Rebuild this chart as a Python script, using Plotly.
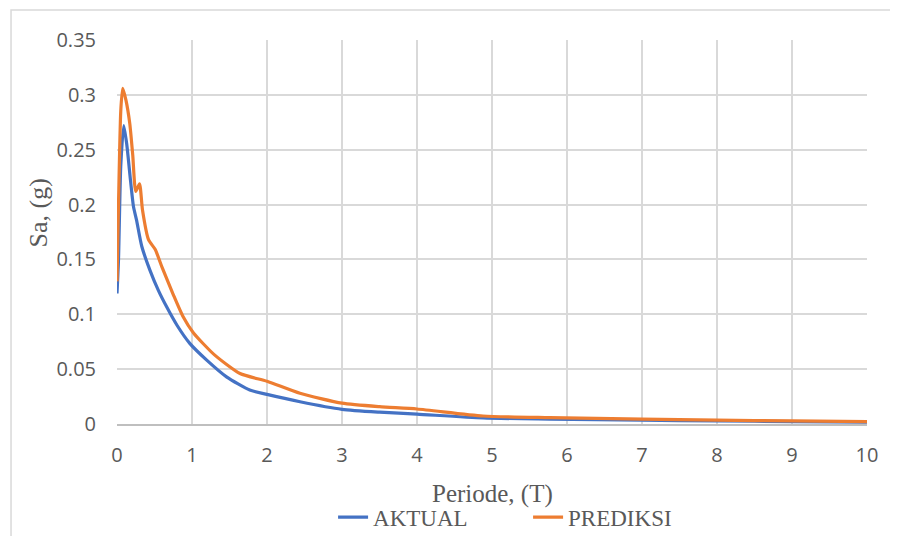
import plotly.graph_objects as go

# period values (s) and spectral accelerations (g)
t_aktual = [0.0, 0.02, 0.05, 0.09, 0.13, 0.18, 0.22, 0.26, 0.33, 0.44, 0.55, 0.66, 0.8, 0.97,
            1.2, 1.46, 1.77, 2.0, 2.44, 3.0, 3.5, 4.0, 4.88, 5.77, 7.0, 8.0, 9.0, 10.0]
sa_aktual = [0.119, 0.15, 0.235, 0.272, 0.255, 0.222, 0.198, 0.186, 0.162, 0.140, 0.122, 0.107,
             0.090, 0.0735, 0.058, 0.043, 0.031, 0.027, 0.0203, 0.0134, 0.0108, 0.009, 0.0055,
             0.0045, 0.0035, 0.0028, 0.0022, 0.0016]

t_prediksi = [0.0, 0.02, 0.05, 0.076, 0.12, 0.17, 0.21, 0.25, 0.30, 0.34, 0.42, 0.51, 0.6, 0.75,
              0.88, 1.02, 1.3, 1.64, 2.0, 2.44, 3.0, 3.5, 4.0, 4.88, 5.77, 7.0, 8.0, 9.0, 10.0]
sa_prediksi = [0.130, 0.2, 0.285, 0.306, 0.295, 0.274, 0.245, 0.212, 0.219, 0.195, 0.168, 0.159,
               0.143, 0.118, 0.098, 0.083, 0.063, 0.046, 0.039, 0.028, 0.019, 0.0158, 0.0137,
               0.0073, 0.0058, 0.0045, 0.0035, 0.0028, 0.0022]

x_ticks = list(range(0, 11))
y_ticks = [0, 0.05, 0.1, 0.15, 0.2, 0.25, 0.3, 0.35]
y_labels = ["0", "0.05", "0.1", "0.15", "0.2", "0.25", "0.3", "0.35"]

fig = go.Figure()
fig.add_scatter(x=t_aktual, y=sa_aktual, mode="lines", name="AKTUAL",
                line=dict(color="#4472C4", width=3.2, shape="spline", smoothing=0.6))
fig.add_scatter(x=t_prediksi, y=sa_prediksi, mode="lines", name="PREDIKSI",
                line=dict(color="#ED7D31", width=3.2, shape="spline", smoothing=0.6))

tick_font = dict(family="Open Sans, Liberation Sans, sans-serif", size=20, color="#595959")
serif = "Liberation Serif, Times New Roman, serif"

fig.update_xaxes(range=[0, 10], tickvals=x_ticks, tickfont=tick_font, automargin=False,
                 showgrid=True, gridcolor="#d9d9d9", gridwidth=1.5,
                 showline=True, linecolor="#bfbfbf", linewidth=1.5, zeroline=False,
                 ticks="", ticklabelstandoff=12)
fig.update_yaxes(range=[0, 0.35], tickvals=y_ticks, ticktext=y_labels, tickfont=tick_font,
                 automargin=False,
                 showgrid=True, gridcolor="#d9d9d9", gridwidth=1.5, zeroline=False,
                 ticks="", ticklabelstandoff=20)

# axis titles
fig.add_annotation(text="Periode, (T)", xref="paper", yref="paper", x=0.5, y=-0.182,
                   xanchor="center", yanchor="middle", showarrow=False,
                   font=dict(family=serif, size=25, color="#595959"))
fig.add_annotation(text="Sa, (g)", xref="paper", yref="paper", x=-0.105, y=0.549,
                   xanchor="center", yanchor="middle", showarrow=False, textangle=-90,
                   font=dict(family=serif, size=26, color="#595959"))

# outer chart border
fig.add_shape(type="rect", xref="paper", yref="paper", x0=-0.1413, x1=1.08, y0=-0.4, y1=1.078,
              line=dict(color="#d9d9d9", width=1.5), fillcolor="rgba(0,0,0,0)", layer="below")

fig.update_layout(
    width=898, height=536,
    margin=dict(l=109, r=39, t=32, b=120),
    paper_bgcolor="white", plot_bgcolor="white",
    legend=dict(orientation="h", xref="container", yref="container",
                x=0.362, xanchor="left", y=0.05, yanchor="middle",
                font=dict(family=serif, size=23, color="#595959"),
                entrywidth=150, tracegroupgap=0),
    showlegend=True,
)

fig.write_html("out.html")
